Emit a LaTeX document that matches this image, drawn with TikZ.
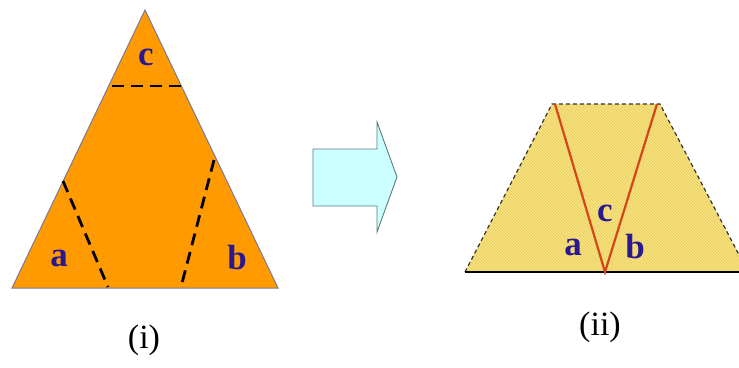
\documentclass[tikz,border=0pt]{standalone}
\usepackage{fontspec}
\setmainfont{Liberation Serif}
\usetikzlibrary{patterns}
\definecolor{orangefill}{HTML}{FF9A00}
\definecolor{edgegray}{HTML}{7A7A9A}
\definecolor{yelfill}{HTML}{F8E27C}
\definecolor{yelhatch}{HTML}{E8CC66}
\definecolor{redline}{HTML}{D4461A}
\definecolor{letterblue}{HTML}{2A1890}
\definecolor{cyanfill}{HTML}{CCFFFF}
\definecolor{arrowedge}{HTML}{5A7A7A}
\tikzset{
  cutline/.style={black, line width=2.8pt, dash pattern=on 12pt off 7pt},
  letter/.style={font=\fontsize{35}{35}\selectfont\bfseries, text=letterblue, inner sep=0pt},
  caption/.style={font=\fontsize{34}{34}\selectfont, text=black, inner sep=0pt},
  trapedge/.style={draw=gray!40!black, line width=1.2pt, dash pattern=on 4pt off 3pt},
  vline/.style={redline, line width=2.2pt},
}
\begin{document}
\begin{tikzpicture}[x=1pt,y=-1pt]
\useasboundingbox (0,0) rectangle (739,367);
\clip (0,0) rectangle (739,367);
% triangle (i)
\coordinate (A) at (145,10);
\coordinate (B) at (12,288);
\coordinate (C) at (278,288);
\filldraw[fill=orangefill, draw=edgegray, line width=1pt] (A) -- (B) -- (C) -- cycle;
\coordinate (t1) at (112,86);
\coordinate (t2) at (181,86);
\coordinate (l1) at (63,181);
\coordinate (l2) at (108,287);
\coordinate (r1) at (214,160);
\coordinate (r2) at (181,287);
\draw[cutline] (t1) -- (t2);
\draw[cutline] (l1) -- (l2);
\draw[cutline] (r1) -- (r2);
\node[letter] (lc) at (146,57) {c};
\node[letter] (la) at (59,258) {a};
\node[letter] (lb) at (237,258) {b};
\node[caption] (cap1) at (144,340) {(i)};
% arrow
\filldraw[fill=cyanfill, draw=arrowedge, line width=0.9pt]
  (313,149) -- (377,149) -- (377,122) -- (397,177) -- (377,232) -- (377,206) -- (313,206) -- cycle;
% trapezoid (ii)
\coordinate (P1) at (552,104);
\coordinate (P2) at (660,104);
\coordinate (P3) at (748,272);
\coordinate (P4) at (465,272);
\coordinate (V) at (605,272);
\fill[yelfill] (P1) -- (P2) -- (P3) -- (P4) -- cycle;
\fill[pattern=north west lines, pattern color=yelhatch] (P1) -- (P2) -- (P3) -- (P4) -- cycle;
\draw[trapedge] (P4) -- (P1) -- (P2) -- (P3);
\draw[black, line width=2.8pt] (P4) -- (P3);
\draw[vline] (555,104) -- (V) -- (657,104);
\node[letter] (rc) at (605,213) {c};
\node[letter] (ra) at (573,247) {a};
\node[letter] (rb) at (635,247) {b};
\node[caption] (cap2) at (600,327) {(ii)};
\end{tikzpicture}
\end{document}
